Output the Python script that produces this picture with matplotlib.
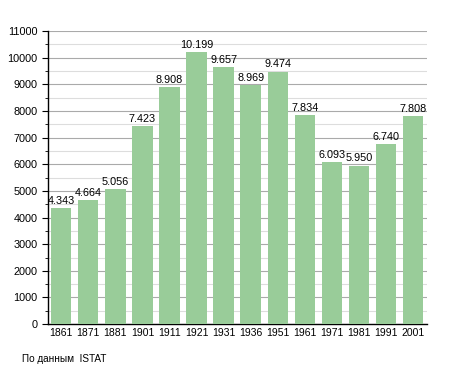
import matplotlib
matplotlib.use('Agg')
import matplotlib.pyplot as plt
from matplotlib.ticker import MultipleLocator

years = ['1861', '1871', '1881', '1901', '1911', '1921', '1931',
         '1936', '1951', '1961', '1971', '1981', '1991', '2001']
population = [4343, 4664, 5056, 7423, 8908, 10199, 9657,
              8969, 9474, 7834, 6093, 5950, 6740, 7808]

plt.rcParams['font.family'] = ['Liberation Sans', 'DejaVu Sans']

fig = plt.figure(figsize=(4.55, 3.73), dpi=100)
ax = fig.add_axes([0.1055, 0.131, 0.833, 0.786])

x = list(range(len(years)))
ax.bar(x, population, width=0.75, color='#99cc99', zorder=3)

for xi, v in zip(x, population):
    label = f'{v:,}'.replace(',', '.')
    ax.text(xi, v + 80, label, ha='center', va='bottom', fontsize=7.8, zorder=4)

ax.set_xlim(-0.49, len(years) - 1 + 0.52)
ax.set_ylim(0, 11000)
ax.yaxis.set_major_locator(MultipleLocator(1000))
ax.yaxis.set_minor_locator(MultipleLocator(500))
ax.grid(axis='y', which='major', color='#aaaaaa', linewidth=0.8, zorder=0)
ax.grid(axis='y', which='minor', color='#dddddd', linewidth=0.8, zorder=0)

ax.set_xticks(x)
ax.set_xticklabels(years)
ax.tick_params(axis='x', length=0, labelsize=7.5, pad=3)
ax.tick_params(axis='y', which='major', length=4, labelsize=7.8, direction='out')
ax.tick_params(axis='y', which='minor', length=2, direction='out')

for s in ['top', 'right']:
    ax.spines[s].set_visible(False)
ax.spines['left'].set_linewidth(1)
ax.spines['bottom'].set_linewidth(1)

fig.text(22 / 455, 1 - 362 / 373, 'По данным  ISTAT', fontsize=7.2, ha='left', va='baseline')

fig.savefig('out.png', dpi=100)
